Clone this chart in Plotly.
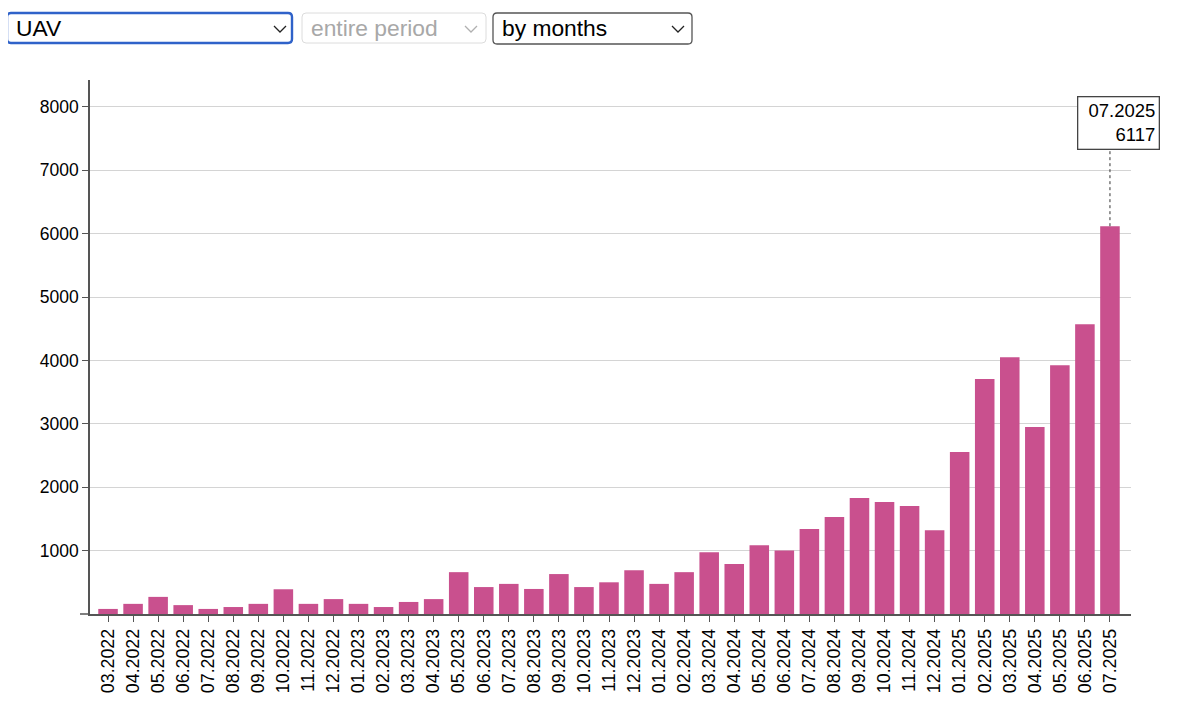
import plotly.graph_objects as go

months = ["03.2022","04.2022","05.2022","06.2022","07.2022","08.2022","09.2022","10.2022","11.2022","12.2022",
          "01.2023","02.2023","03.2023","04.2023","05.2023","06.2023","07.2023","08.2023","09.2023","10.2023",
          "11.2023","12.2023","01.2024","02.2024","03.2024","04.2024","05.2024","06.2024","07.2024","08.2024",
          "09.2024","10.2024","11.2024","12.2024","01.2025","02.2025","03.2025","04.2025","05.2025","06.2025",
          "07.2025"]
values = [80, 160, 270, 140, 80, 110, 160, 390, 160, 235,
          160, 110, 190, 235, 660, 425, 475, 395, 630, 425,
          500, 690, 475, 660, 975, 790, 1085, 1000, 1340, 1530,
          1830, 1765, 1705, 1320, 2555, 3705, 4050, 2950, 3925, 4570,
          6117]
y_ticks = [1000, 2000, 3000, 4000, 5000, 6000, 7000, 8000]
dropdown_labels = ["UAV", "entire period", "by months"]

BAR = "#c9508e"
FONT = "Liberation Sans, Arial, Helvetica, sans-serif"

OFF = 8  # page body margin
W, H = 1200 - OFF, 703 - OFF
# plot area in reference (window) pixel coordinates
L, R, T, B = 90, 1131, 80, 614
PW, PH = R - L, B - T
PX_PER_1000 = 63.4

def px(x):
    return (x - L) / PW

def py(y):
    return (B - y) / PH

def val_at(y):
    return (B - y) / PX_PER_1000 * 1000

def rrect(x0, y0, x1, y1, r):
    rx, ry = r / PW, r / PH
    a0, a1 = px(x0), px(x1)
    b0, b1 = py(y1), py(y0)
    return (f"M{a0+rx},{b1} L{a1-rx},{b1} Q{a1},{b1} {a1},{b1-ry} "
            f"L{a1},{b0+ry} Q{a1},{b0} {a1-rx},{b0} L{a0+rx},{b0} "
            f"Q{a0},{b0} {a0},{b0+ry} L{a0},{b1-ry} Q{a0},{b1} {a0+rx},{b1} Z")

def chevron(cx, cy, w=12, h=6):
    return (f"M{px(cx-w/2)},{py(cy-h/2)} L{px(cx)},{py(cy+h/2)} L{px(cx+w/2)},{py(cy-h/2)}")

fig = go.Figure()
fig.add_trace(go.Bar(
    x=list(range(len(months))), y=values,
    marker=dict(color=BAR, line=dict(width=0)),
    width=0.78, hoverinfo="skip",
))

shapes = []
annotations = []

# dropdowns: (x0, y0, x1, y1, border colour, border width, text colour, chevron colour, chevron x)
boxes = [
    (7, 13, 292, 43, "#2f62c9", 2.4, "#000000", "#222222", 280),
    (302, 13, 486, 43, "#dcdcdc", 1, "#a8a8a8", "#b0b0b0", 471),
    (493, 13, 692, 44, "#555555", 1.3, "#000000", "#222222", 678),
]
for (x0, y0, x1, y1, bc, bw, tc, cc, chx), lab in zip(boxes, dropdown_labels):
    shapes.append(dict(type="path", xref="paper", yref="paper", path=rrect(x0, y0, x1, y1, 4),
                       line=dict(color=bc, width=bw), fillcolor="white", layer="above"))
    shapes.append(dict(type="path", xref="paper", yref="paper", path=chevron(chx, 29),
                       line=dict(color=cc, width=1.3), layer="above"))
    annotations.append(dict(xref="paper", yref="paper", x=px(x0 + 7), y=py(27.5), text=lab,
                            showarrow=False, xanchor="left", yanchor="middle",
                            font=dict(family=FONT, size=22.8, color=tc)))

# x axis line extends slightly left of the y axis
shapes.append(dict(type="line", xref="paper", yref="paper", x0=px(80), x1=0, y0=0, y1=0,
                   line=dict(color="#555555", width=1.5)))

# hover tooltip
last = len(months) - 1
box_bottom = 150
shapes.append(dict(type="line", xref="x", yref="y", x0=last, x1=last, y0=values[last],
                   y1=val_at(box_bottom), line=dict(color="#333333", width=1, dash="dot")))
annotations.append(dict(xref="x", yref="y", x=last, y=val_at(box_bottom),
                        text=f"{months[last]}<br>{values[last]}", showarrow=False,
                        xanchor="center", yanchor="bottom", xshift=8.5, align="right",
                        width=74, bordercolor="#444444", borderwidth=1.3, borderpad=3,
                        bgcolor="white",
                        font=dict(family=FONT, size=18.5, color="#000000")))

fig.update_layout(
    width=W, height=H,
    margin=dict(l=L - OFF, r=W - (R - OFF), t=T - OFF, b=H - (B - OFF), pad=0, autoexpand=False),
    paper_bgcolor="white", plot_bgcolor="white",
    showlegend=False,
    font=dict(family=FONT, size=17.5, color="#000000"),
    shapes=shapes, annotations=annotations,
    xaxis=dict(
        tickmode="array", tickvals=list(range(len(months))), ticktext=months,
        tickangle=-90, range=[-0.72, 40.84], automargin=False,
        showline=True, linecolor="#555555", linewidth=1.5,
        ticks="outside", ticklen=6, tickcolor="#555555", tickwidth=1.2,
        showgrid=False, zeroline=False,
        tickfont=dict(family=FONT, size=17.8, color="#000000"),
    ),
    yaxis=dict(
        tickmode="array", tickvals=y_ticks, ticktext=[str(v) for v in y_ticks],
        range=[0, val_at(T)], automargin=False,
        showline=True, linecolor="#555555", linewidth=1.5,
        ticks="outside", ticklen=6, tickcolor="#555555", tickwidth=1.2,
        showgrid=True, gridcolor="#d4d4d4", gridwidth=1.2,
        zeroline=False,
        tickfont=dict(family=FONT, size=17.5, color="#000000"),
    ),
)

fig.write_html("out.html")
